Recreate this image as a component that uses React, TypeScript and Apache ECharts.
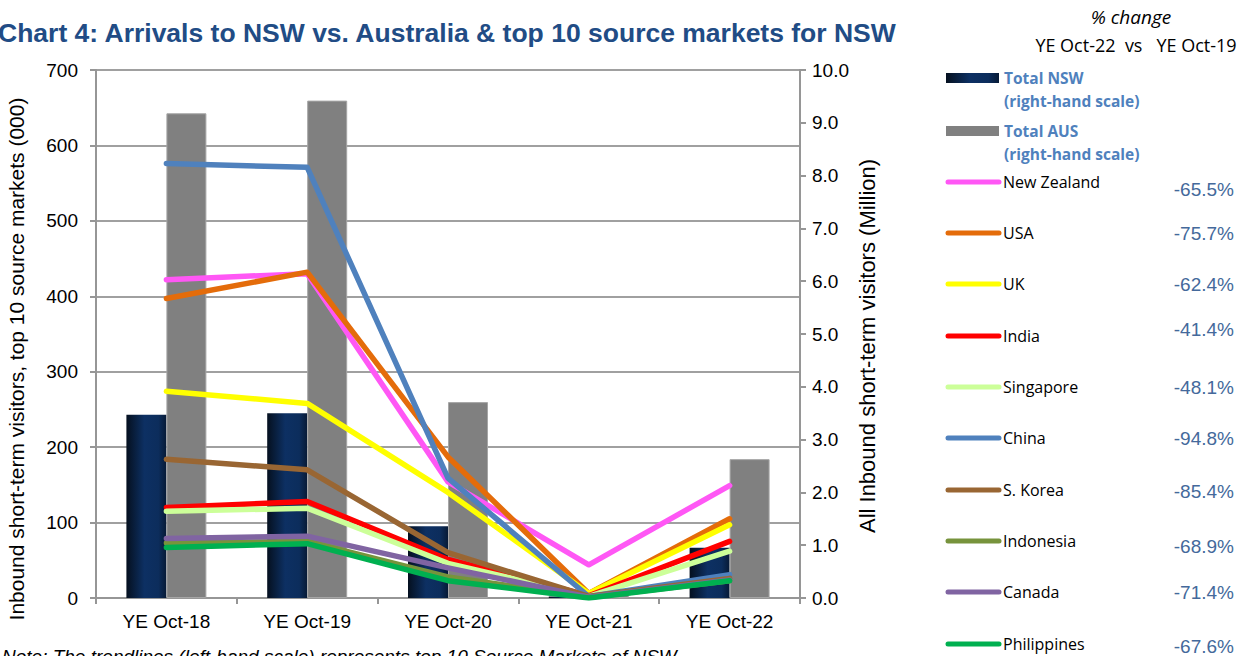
import React, { useEffect, useRef } from "react";
import * as echarts from "echarts";

const categories = ["YE Oct-18", "YE Oct-19", "YE Oct-20", "YE Oct-21", "YE Oct-22"];
const totalNSW = [3.47, 3.5, 1.36, 0.03, 0.95];
const totalAUS = [9.18, 9.42, 3.71, 0.06, 2.63];

const newZealand = [422, 430, 154, 44, 149];
const usa = [397, 432, 187, 6, 105];
const uk = [274, 258, 140, 6, 97];
const india = [120, 128, 51, 3, 75];
const singapore = [115, 119, 46, 2, 62];
const china = [576, 571, 159, 2, 31];
const sKorea = [184, 170, 60, 2, 26];
const indonesia = [73, 75, 28, 1, 23];
const canada = [79, 82, 40, 1, 24];
const philippines = [67, 72, 23, 0, 23];

const lineNames = ["New Zealand", "USA", "UK", "India", "Singapore", "China", "S. Korea", "Indonesia", "Canada", "Philippines"];
const lineData = [newZealand, usa, uk, india, singapore, china, sKorea, indonesia, canada, philippines];
const lineColors = ["#ff57f5", "#e46c0a", "#ffff00", "#ff0000", "#ccff99", "#4f81bd", "#996633", "#77933c", "#8064a2", "#00b050"];
const pctChange = ["-65.5%", "-75.7%", "-62.4%", "-41.4%", "-48.1%", "-94.8%", "-85.4%", "-68.9%", "-71.4%", "-67.6%"];

const leftTicks = [0, 100, 200, 300, 400, 500, 600, 700];
const rightTicks = [0, 1, 2, 3, 4, 5, 6, 7, 8, 9, 10];

const navyGradient = () =>
  new echarts.graphic.LinearGradient(0, 0, 1, 0, [
    { offset: 0, color: "#05101f" },
    { offset: 0.45, color: "#0d3063" },
    { offset: 0.8, color: "#0c2d5c" },
    { offset: 1, color: "#071a36" },
  ]);

export default function App() {
  const ref = useRef<HTMLDivElement>(null);

  useEffect(() => {
    if (!ref.current) return;
    const chart = echarts.init(ref.current, undefined, { renderer: "svg" });

    const legendItemsY = [182, 233, 284, 336, 387, 438, 490, 541, 592, 644];
    const pctY = [189, 233, 284, 329, 387, 438, 491, 546, 592, 646];
    const legendFont = "'Open Sans', 'Noto Sans', sans-serif";
    const arial = "'Liberation Sans', Arial, sans-serif";

    const graphic: any[] = [
      {
        type: "text",
        x: -2,
        y: 33,
        style: {
          text: "Chart 4: Arrivals to NSW vs. Australia & top 10 source markets for NSW",
          font: `bold 26.5px ${arial}`,
          fill: "#214c85",
          verticalAlign: "middle",
        },
      },
      {
        type: "text",
        x: 1131,
        y: 17,
        style: {
          text: "% change",
          font: `italic 19px ${legendFont}`,
          fill: "#000",
          align: "center",
          verticalAlign: "middle",
        },
      },
      {
        type: "text",
        x: 1136,
        y: 45,
        style: {
          text: "YE Oct-22  vs   YE Oct-19",
          font: `18px ${legendFont}`,
          fill: "#000",
          align: "center",
          verticalAlign: "middle",
        },
      },
      {
        type: "rect",
        shape: { x: 946, y: 73, width: 53, height: 10 },
        style: { fill: navyGradient() },
      },
      {
        type: "text",
        x: 1004,
        y: 78,
        style: { text: "Total NSW", font: `bold 15.5px ${legendFont}`, fill: "#4f81bd", verticalAlign: "middle" },
      },
      {
        type: "text",
        x: 1004,
        y: 101,
        style: { text: "(right-hand scale)", font: `bold 15.5px ${legendFont}`, fill: "#4f81bd", verticalAlign: "middle" },
      },
      {
        type: "rect",
        shape: { x: 946, y: 126, width: 53, height: 10 },
        style: { fill: "#808080" },
      },
      {
        type: "text",
        x: 1004,
        y: 131,
        style: { text: "Total AUS", font: `bold 15.5px ${legendFont}`, fill: "#4f81bd", verticalAlign: "middle" },
      },
      {
        type: "text",
        x: 1004,
        y: 154,
        style: { text: "(right-hand scale)", font: `bold 15.5px ${legendFont}`, fill: "#4f81bd", verticalAlign: "middle" },
      },
      {
        type: "text",
        x: 2,
        y: 656,
        style: {
          text: "Note: The trendlines (left-hand scale) represents top 10 Source Markets of NSW",
          font: `italic 19px ${arial}`,
          fill: "#000",
          verticalAlign: "middle",
        },
      },
      {
        type: "text",
        x: 16,
        y: 359,
        rotation: Math.PI / 2,
        style: {
          text: "Inbound short-term visitors, top 10 source markets (000)",
          font: `21px ${arial}`,
          fill: "#000",
          align: "center",
          verticalAlign: "middle",
        },
      },
      {
        type: "text",
        x: 867,
        y: 346,
        rotation: Math.PI / 2,
        style: {
          text: "All Inbound short-term visitors (Million)",
          font: `22px ${arial}`,
          fill: "#000",
          align: "center",
          verticalAlign: "middle",
        },
      },
    ];

    lineNames.forEach((name, i) => {
      graphic.push({
        type: "line",
        shape: { x1: 948, y1: legendItemsY[i], x2: 999, y2: legendItemsY[i] },
        style: { stroke: lineColors[i], lineWidth: 5, lineCap: "round" },
      });
      graphic.push({
        type: "text",
        x: 1003,
        y: legendItemsY[i],
        style: { text: name, font: `16px ${legendFont}`, fill: "#000", verticalAlign: "middle" },
      });
      graphic.push({
        type: "text",
        x: 1234,
        y: pctY[i],
        style: {
          text: pctChange[i],
          font: `19px ${arial}`,
          fill: "#44699b",
          align: "right",
          verticalAlign: "middle",
        },
      });
    });

    const series: any[] = [
      {
        name: "Total NSW",
        type: "bar",
        yAxisIndex: 1,
        data: totalNSW,
        barWidth: 40,
        barGap: "0%",
        itemStyle: { color: navyGradient() },
        z: 1,
      },
      {
        name: "Total AUS",
        type: "bar",
        yAxisIndex: 1,
        data: totalAUS,
        barWidth: 40,
        barGap: "0%",
        itemStyle: { color: "#808080", borderColor: "#a6a6a6", borderWidth: 1 },
        z: 1,
      },
    ];
    lineNames.forEach((name, i) => {
      series.push({
        name,
        type: "line",
        yAxisIndex: 0,
        data: lineData[i],
        symbol: "none",
        lineStyle: { color: lineColors[i], width: 5.5, cap: "round", join: "round" },
        itemStyle: { color: lineColors[i] },
        z: 3 + i,
      });
    });

    chart.setOption({
      animation: false,
      backgroundColor: "#fff",
      grid: { left: 96, right: 443, top: 70, bottom: 58, containLabel: false },
      xAxis: {
        type: "category",
        data: categories,
        axisLine: { lineStyle: { color: "#969696", width: 2 } },
        axisTick: { show: true, alignWithLabel: false, length: 6, lineStyle: { color: "#969696", width: 2 } },
        axisLabel: { color: "#000", fontSize: 19, fontFamily: arial, margin: 14 },
      },
      yAxis: [
        {
          type: "value",
          min: 0,
          max: leftTicks[leftTicks.length - 1],
          interval: 100,
          position: "left",
          axisLine: { show: true, lineStyle: { color: "#969696", width: 2 } },
          axisTick: { show: true, length: 6, lineStyle: { color: "#969696", width: 2 } },
          axisLabel: { color: "#000", fontSize: 19, fontFamily: arial, margin: 18 },
          splitLine: { show: true, lineStyle: { color: "#a0a0a0", width: 2 } },
        },
        {
          type: "value",
          min: 0,
          max: rightTicks[rightTicks.length - 1],
          interval: 1,
          position: "right",
          axisLine: { show: true, lineStyle: { color: "#969696", width: 2 } },
          axisTick: { show: true, length: 6, lineStyle: { color: "#969696", width: 2 } },
          axisLabel: {
            color: "#000",
            fontSize: 19,
            fontFamily: arial,
            margin: 12,
            formatter: (v: number) => v.toFixed(1),
          },
          splitLine: { show: false },
        },
      ],
      series,
      graphic,
    });

    return () => chart.dispose();
  }, []);

  return (
    <div
      ref={ref}
      style={{ position: "fixed", left: 0, top: 0, width: 1243, height: 656, background: "#fff" }}
    />
  );
}
